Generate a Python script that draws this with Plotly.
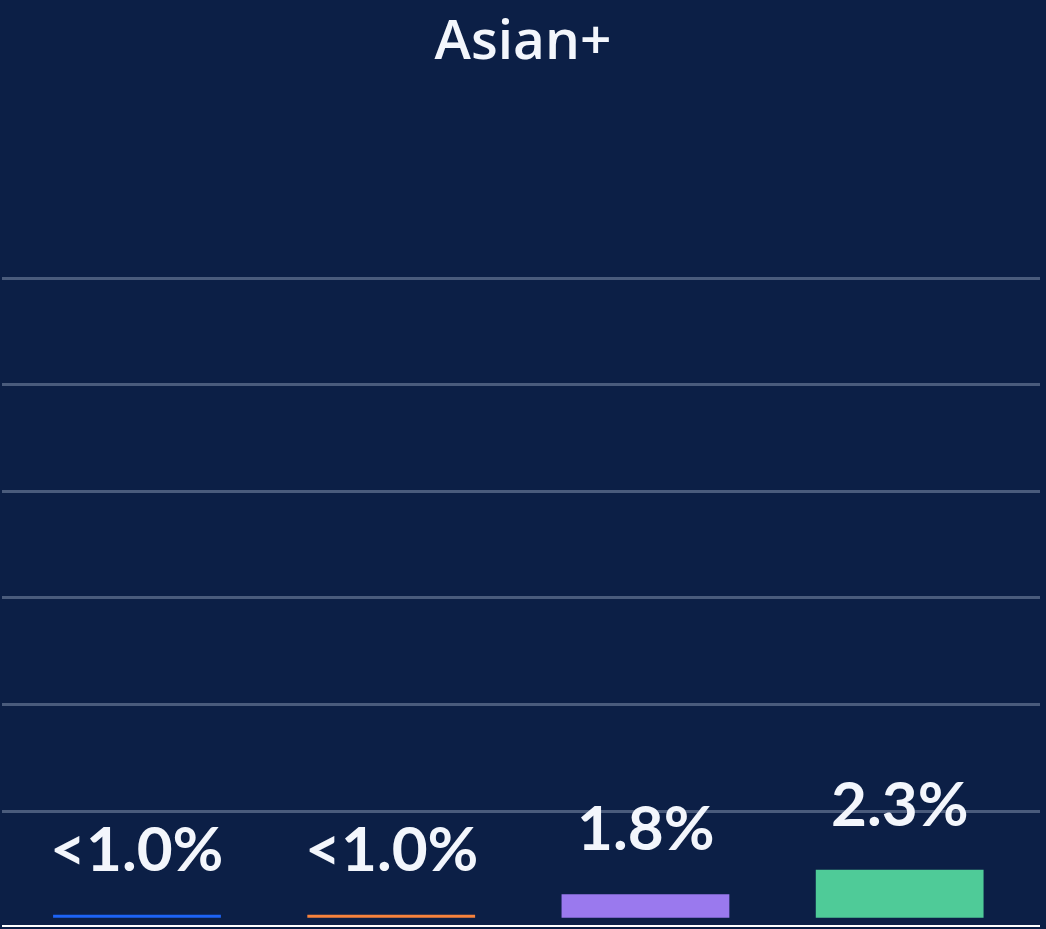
import plotly.graph_objects as go

# Data
categories = ["A", "B", "C", "D"]
bar_heights = [0.27, 0.27, 2.2, 4.5]          # drawn heights, in gridline units (10 per gridline)
value_labels = ["<1.0%", "<1.0%", "1.8%", "2.3%"]
bar_colors = ["#1d63f5", "#f7823c", "#9a79ee", "#4fcb98"]
grid_ticks = [10, 20, 30, 40, 50, 60]
title_text = "Asian+"

BG = "#0c1f46"
TXT = "#f3f6fc"
GRID = "#4a5b7c"

fig = go.Figure()
fig.add_trace(go.Bar(
    x=list(range(len(categories))),
    y=bar_heights,
    marker=dict(color=bar_colors, line=dict(width=0)),
    width=0.66,
    hoverinfo="skip",
))

for i, (h, lab) in enumerate(zip(bar_heights, value_labels)):
    fig.add_annotation(
        x=i, y=h, xref="x", yref="y", text=lab, showarrow=False,
        yanchor="bottom", yshift=29,
        font=dict(family="Lato", size=62, color=TXT, weight="bold"),
    )

fig.update_layout(
    width=1046, height=929,
    paper_bgcolor=BG, plot_bgcolor=BG,
    margin=dict(l=2, r=6, t=150, b=4),
    showlegend=False,
    title=dict(
        text=title_text, x=0.5, xanchor="center", y=0.978, yanchor="top",
        font=dict(family="Open Sans", size=55, color=TXT, weight=600),
    ),
    xaxis=dict(
        range=[-0.531, 3.552], showgrid=False, zeroline=False,
        showticklabels=False, showline=True, linecolor="#ffffff", linewidth=2,
        fixedrange=True,
    ),
    yaxis=dict(
        range=[-0.69, 72.01], tickvals=grid_ticks, showticklabels=False,
        showgrid=True, gridcolor=GRID, gridwidth=2.5, zeroline=False,
        showline=False, fixedrange=True,
    ),
)

fig.write_html(
    "out.html",
    config={"displayModeBar": False},
    post_script="document.body.style.margin='0';document.body.style.background='#0c1f46';",
)
